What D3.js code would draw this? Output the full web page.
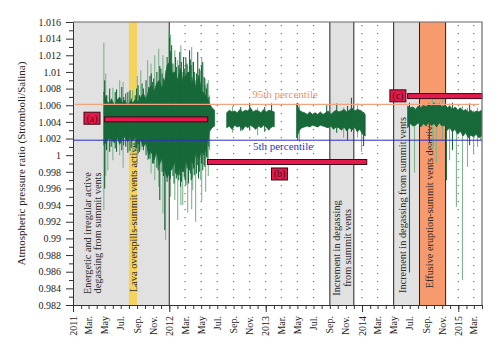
<!DOCTYPE html>
<html>
<head>
<meta charset="utf-8">
<script src="https://cdn.jsdelivr.net/npm/d3@7"></script>
<style>
  body { margin: 0; background: #fff; }
  svg { font-family: "Liberation Serif", "DejaVu Serif", serif; }
</style>
</head>
<body>
<div id="vis"></div>
<script>
// frame constants
const FRAME_WIDTH = 500;
const FRAME_HEIGHT = 354;
const MARGINS = {left: 73, right: 18, top: 22, bottom: 49};

// ---- data ----
// dense core of the record, one value every 10 days from each segment start
const STEP_DAYS = 10;
const segStarts = ["2011-04-28", "2012-08-06", "2013-04-28", "2014-06-23"];

const seg1Hi = [1.0076,1.0065,1.0062,1.0067,1.0060,1.0066,1.0070,1.0063,1.0066,1.0059,1.0065,1.0063,1.0067,1.0064,1.0070,1.0074,1.0067,
                1.0078,1.0084,1.0076,1.0086,1.0090,1.0080,1.0088,1.0108,1.0112,1.0098,1.0100,1.0090,1.0104,1.0088,1.0095,1.0100,1.0084,1.0092,1.0080,1.0096,1.0078,1.0074,1.0070,1.0062,1.0057,1.0054];
const seg1Lo = [1.0012,1.0016,1.0021,1.0018,1.0015,1.0022,1.0013,1.0019,1.0022,1.0016,1.0021,1.0017,1.0022,1.0013,1.0018,1.0010,1.0015,
                1.0000,1.0006,0.9994,1.0004,0.9988,0.9997,0.9982,0.9973,0.9980,0.9985,0.9992,0.9976,0.9987,0.9980,0.9994,0.9985,0.9997,0.9988,1.0004,0.9994,1.0006,1.0000,1.0012,1.0028,1.0033,1.0035];
const seg2Hi = [1.0051,1.0054,1.0052,1.0053,1.0051,1.0055,1.0052,1.0054,1.0053,1.0057,1.0052,1.0054,1.0053,1.0051,1.0055,1.0052,1.0054,1.0053,1.0052];
const seg2Lo = [1.0033,1.0035,1.0031,1.0036,1.0034,1.0035,1.0030,1.0035,1.0033,1.0036,1.0034,1.0031,1.0035,1.0033,1.0036,1.0034,1.0030,1.0035,1.0034];
const seg3Hi = [1.0062,1.0054,1.0052,1.0051,1.0049,1.0052,1.0049,1.0051,1.0049,1.0052,1.0049,1.0051,1.0053,1.0049,1.0052,1.0054,1.0052,1.0053,1.0055,1.0052,1.0054,1.0057,1.0053,1.0055,1.0054,1.0052,1.0049];
const seg3Lo = [1.0021,1.0030,1.0033,1.0034,1.0035,1.0034,1.0036,1.0035,1.0034,1.0036,1.0035,1.0034,1.0033,1.0035,1.0031,1.0034,1.0033,1.0030,1.0034,1.0029,1.0033,1.0030,1.0034,1.0028,1.0031,1.0025,1.0023];
const seg4Hi = [1.0059,1.0057,1.0058,1.0055,1.0059,1.0057,1.0060,1.0058,1.0062,1.0059,1.0063,1.0059,1.0062,1.0058,1.0060,1.0057,1.0059,1.0055,1.0058,1.0054,1.0057,1.0053,1.0055,1.0052,1.0054,1.0051,1.0053,1.0052,1.0054];
const seg4Lo = [1.0033,1.0038,1.0035,1.0036,1.0039,1.0034,1.0038,1.0035,1.0040,1.0036,1.0038,1.0034,1.0039,1.0035,1.0036,1.0030,1.0033,1.0028,1.0031,1.0025,1.0029,1.0023,1.0027,1.0021,1.0024,1.0022,1.0025,1.0021,1.0023];

// single spikes (top, bottom); dark = inside the dense trace, pale = outliers
const spikeDates = [
  "2011-04-28","2011-05-01","2011-05-13","2011-06-01","2011-06-27","2011-08-15","2011-09-15","2011-10-11","2011-11-07","2011-11-26",
  "2011-12-15","2011-12-18","2011-12-30","2012-01-02","2012-01-10","2012-01-22","2012-02-02","2012-02-10","2012-02-21","2012-03-04",
  "2012-03-11","2012-03-18","2012-03-30","2012-04-10","2012-04-18","2012-04-29","2012-05-07","2012-05-18","2012-06-02",
  "2011-05-20","2011-06-10","2011-07-05","2011-07-20","2011-08-05","2011-08-25","2011-09-05","2011-09-25","2011-10-05","2011-10-20",
  "2011-10-30","2011-11-15","2011-12-05","2012-01-15","2012-01-28","2012-02-16","2012-02-27","2012-03-24","2012-04-05","2012-04-24",
  "2012-05-12","2012-05-24",
  "2011-05-08","2011-05-26","2011-06-15","2011-07-12","2011-07-28","2011-08-10","2011-08-30","2011-09-10","2011-09-20","2011-10-15",
  "2011-10-25","2011-11-03","2011-11-20","2011-11-30","2011-12-10","2011-12-24","2012-01-05","2012-01-19","2012-01-25","2012-02-06",
  "2012-02-13","2012-02-24","2012-03-01","2012-03-08","2012-03-14","2012-03-21","2012-03-27","2012-04-02","2012-04-13","2012-04-21",
  "2012-05-02","2012-05-15","2012-05-21","2012-05-30",
  "2011-05-05","2011-07-10","2011-09-02","2011-10-24","2011-11-22","2011-12-08","2012-01-06","2012-02-14","2012-03-26","2012-05-03",
  "2012-05-28",
  "2012-08-28","2012-09-28","2012-11-01","2012-12-01","2012-12-28","2013-01-23",
  "2013-05-02","2013-05-09","2013-08-20","2013-09-27","2013-10-23","2013-11-07","2013-11-22","2013-12-15","2013-12-30","2014-01-07",
  "2014-06-30","2014-07-19","2014-09-14","2014-09-25","2014-10-10","2014-11-02","2014-11-17","2014-11-29","2014-12-10","2014-12-25",
  "2015-01-17","2015-02-05","2015-02-13","2015-02-28","2015-03-15","2015-03-26"];
const spikeTop = [
  1.0135,1.0090,1.0072,1.0081,1.0090,1.0078,1.0102,1.0114,1.0120,1.0107,
  1.0090,1.0102,1.0150,1.0141,1.0132,1.0126,1.0114,1.0124,1.0100,1.0117,
  1.0108,1.0126,1.0112,1.0090,1.0124,1.0102,1.0112,1.0084,1.0072,
  1.0080,1.0076,1.0082,1.0074,1.0078,1.0072,1.0084,1.0080,1.0090,1.0095,
  1.0088,1.0100,1.0098,1.0110,1.0106,1.0112,1.0104,1.0108,1.0100,1.0104,
  1.0094,1.0086,
  1.0072,1.0068,1.0079,1.0070,1.0076,1.0068,1.0080,1.0072,1.0086,1.0082,
  1.0098,1.0092,1.0088,1.0104,1.0092,1.0118,1.0125,1.0100,1.0118,1.0108,
  1.0098,1.0118,1.0096,1.0110,1.0100,1.0115,1.0094,1.0112,1.0098,1.0090,
  1.0108,1.0092,1.0080,1.0070,
  1.0098,1.0088,1.0095,1.0110,1.0128,1.0120,1.0145,1.0132,1.0130,1.0118,
  1.0090,
  1.0059,1.0058,1.0063,1.0057,1.0058,1.0062,
  1.0063,1.0060,1.0060,1.0062,1.0057,1.0059,1.0069,1.0062,1.0054,1.0052,
  1.0063,1.0057,1.0059,1.0069,1.0064,1.0069,1.0059,1.0062,1.0063,1.0057,
  1.0059,1.0057,1.0062,1.0054,1.0057,1.0052];
const spikeBottom = [
  0.9934,0.9960,0.9982,0.9994,1.0000,1.0004,1.0006,0.9994,0.9970,0.9946,
  0.9910,0.9898,0.9976,0.9970,0.9982,0.9946,0.9922,0.9976,0.9940,0.9964,
  0.9931,0.9982,0.9958,0.9920,0.9988,0.9970,0.9982,0.9956,1.0006,
  1.0004,1.0008,1.0006,1.0010,1.0005,1.0008,1.0002,1.0006,1.0000,0.9996,
  0.9990,0.9985,0.9980,0.9975,0.9972,0.9968,0.9974,0.9970,0.9976,0.9980,
  0.9988,0.9996,
  1.0006,1.0010,1.0004,1.0012,1.0003,1.0009,1.0008,1.0004,1.0010,0.9995,
  1.0002,0.9990,0.9982,0.9992,0.9975,0.9968,0.9972,0.9966,0.9978,0.9970,
  0.9962,0.9980,0.9970,0.9984,0.9966,0.9978,0.9972,0.9984,0.9978,0.9972,
  0.9990,0.9986,0.9998,1.0010,
  0.9975,0.9985,0.9990,0.9978,0.9962,0.9930,0.9950,0.9940,0.9935,0.9945,
  0.9975,
  1.0027,1.0029,1.0030,1.0024,1.0028,1.0033,
  1.0018,1.0016,1.0033,1.0027,1.0021,1.0018,1.0028,1.0021,1.0004,1.0011,
  0.9859,0.9979,1.0015,1.0006,0.9990,1.0018,0.9970,0.9994,1.0006,0.9938,
  0.9850,0.9986,1.0012,1.0003,1.0010,1.0018];
const spikeDark = [
  0,1,0,0,0,0,0,0,0,1,
  1,0,0,1,1,0,0,1,0,1,
  0,1,0,0,1,0,1,0,0,
  1,1,1,1,1,1,1,1,1,1,
  1,1,1,1,1,1,1,1,1,1,
  1,1,
  1,1,1,1,1,1,1,1,1,1,
  1,1,1,1,1,1,1,1,1,1,
  1,1,1,1,1,1,1,1,1,1,
  1,1,1,1,
  0,0,0,0,0,0,0,0,0,0,
  0,
  0,1,1,0,1,1,
  1,0,1,1,0,1,1,0,0,1,
  1,0,1,0,0,0,1,0,1,0,
  0,0,1,0,0,0];

// periods
const grayStarts = ["2011-01-01", "2013-09-01", "2014-05-01"];
const grayEnds   = ["2012-01-01", "2013-12-01", "2014-08-07"];
const yellowPeriod = ["2011-08-01", "2011-09-01"];
const orangePeriod = ["2014-08-07", "2014-11-14"];
const solidLines = ["2012-01-01", "2013-09-01", "2013-12-01", "2014-05-01", "2014-08-07", "2014-11-14"];
const dottedLines = ["2012-03-01","2012-05-01","2012-07-01","2012-09-01","2012-11-01","2013-01-01","2013-03-01",
                     "2013-05-01","2013-07-01","2014-01-01","2014-03-01","2015-01-01","2015-03-01"];

// percentiles
const P95 = 1.0061;
const P5 = 1.0018;

// red bars (a) (b) (c)
const barLabels = ["(a)", "(b)", "(c)"];
const barStarts = ["2011-05-01", "2012-05-25", "2014-06-23"];
const barEnds   = ["2012-05-26", "2014-01-19", "2015-04-01"];
const barValues = [1.0043, 0.99918, 1.0071];
const boxDates  = ["2011-03-14", "2013-02-22", "2014-05-17"];
const boxValues = [1.00444, 0.99774, 1.00713];

// rotated phase notes
const noteLines = [
  ["Energetic and irregular active", "degassing from summit vents"],
  ["Lava overspills-summit vents active"],
  ["Increment in degassing", "from summit vents"],
  ["Increment in degassing from summit vents"],
  ["Effusive eruption-summit vents deactivated"]];
const noteDates  = ["2011-03-16", "2011-08-18", "2013-10-17", "2014-06-04", "2014-09-14"];
const noteValues = [0.99065, 0.99251, 0.98885, 0.99401, 0.99480];

// axis ticks
const yTicks = [0.982,0.984,0.986,0.988,0.99,0.992,0.994,0.996,0.998,1,1.002,1.004,1.006,1.008,1.01,1.012,1.014,1.016];
const yMinorTicks = [0.983,0.985,0.987,0.989,0.991,0.993,0.995,0.997,0.999,1.001,1.003,1.005,1.007,1.009,1.011,1.013,1.015];
const xTickLabels = ["2011","Mar.","May","Jul.","Sep.","Nov.",
                     "2012","Mar.","May","Jul.","Sep.","Nov.",
                     "2013","Mar.","May","Jul.","Sep.","Nov.",
                     "2014","Mar.","May","Jul.","Sep.","Nov.",
                     "2015","Mar."];

// ---- drawing ----
const parse = d3.timeParse("%Y-%m-%d");

const FRAME = d3.select("#vis")
  .append("svg")
    .attr("width", FRAME_WIDTH)
    .attr("height", FRAME_HEIGHT);

const X_SCALE = d3.scaleTime()
  .domain([parse("2011-01-01"), parse("2015-04-01")])
  .range([MARGINS.left, FRAME_WIDTH - MARGINS.right]);
const Y_SCALE = d3.scaleLinear()
  .domain([0.982, 1.016])
  .range([FRAME_HEIGHT - MARGINS.bottom, MARGINS.top]);

const TOP = MARGINS.top, BOTTOM = FRAME_HEIGHT - MARGINS.bottom;

// shaded periods
FRAME.append("g").selectAll("rect")
  .data(grayStarts.map((s, i) => [s, grayEnds[i]]))
  .enter().append("rect")
    .attr("x", d => X_SCALE(parse(d[0])))
    .attr("width", d => X_SCALE(parse(d[1])) - X_SCALE(parse(d[0])))
    .attr("y", TOP).attr("height", BOTTOM - TOP)
    .style("fill", "#e1e1e1");

FRAME.append("rect")
  .attr("x", X_SCALE(parse(yellowPeriod[0])))
  .attr("width", X_SCALE(parse(yellowPeriod[1])) - X_SCALE(parse(yellowPeriod[0])))
  .attr("y", TOP).attr("height", BOTTOM - TOP)
  .style("fill", "#f5d45e");

FRAME.append("rect")
  .attr("x", X_SCALE(parse(orangePeriod[0])))
  .attr("width", X_SCALE(parse(orangePeriod[1])) - X_SCALE(parse(orangePeriod[0])))
  .attr("y", TOP).attr("height", BOTTOM - TOP)
  .style("fill", "#f79a6e");

// dotted month lines
FRAME.append("g").selectAll("line")
  .data(dottedLines)
  .enter().append("line")
    .attr("x1", d => X_SCALE(parse(d))).attr("x2", d => X_SCALE(parse(d)))
    .attr("y1", TOP + 3).attr("y2", BOTTOM)
    .style("stroke", "#777")
    .style("stroke-width", 1.2)
    .style("stroke-dasharray", "1.2,6.8");

// solid period borders
FRAME.append("g").selectAll("line")
  .data(solidLines)
  .enter().append("line")
    .attr("x1", d => X_SCALE(parse(d))).attr("x2", d => X_SCALE(parse(d)))
    .attr("y1", TOP).attr("y2", BOTTOM)
    .style("stroke", "#222")
    .style("stroke-width", 1);

// phase notes (under the data)
noteLines.forEach((lines, i) => {
  const g = FRAME.append("g")
    .attr("transform", "translate(" + X_SCALE(parse(noteDates[i])) + "," + Y_SCALE(noteValues[i]) + ") rotate(-90)");
  lines.forEach((t, j) => {
    g.append("text")
      .attr("x", 0)
      .attr("y", (j - (lines.length - 1) / 2) * 10.5)
      .attr("dy", "0.35em")
      .attr("text-anchor", "middle")
      .attr("font-size", "10.3px")
      .style("fill", "#2b2b2b")
      .text(t);
  });
});

// spikes: pale first, dark after core
const spikes = spikeDates.map((d, i) => ({date: parse(d), top: spikeTop[i], bottom: spikeBottom[i], dark: spikeDark[i] === 1}));

FRAME.append("g").selectAll("line")
  .data(spikes.filter(d => !d.dark))
  .enter().append("line")
    .attr("x1", d => X_SCALE(d.date)).attr("x2", d => X_SCALE(d.date))
    .attr("y1", d => Y_SCALE(d.top)).attr("y2", d => Y_SCALE(d.bottom))
    .style("stroke", "#7fb48c")
    .style("stroke-width", 1.1);

// dense core as areas
const segments = [[seg1Hi, seg1Lo], [seg2Hi, seg2Lo], [seg3Hi, seg3Lo], [seg4Hi, seg4Lo]];
const AREA = d3.area()
  .x(d => X_SCALE(d.date))
  .y0(d => Y_SCALE(d.lo))
  .y1(d => Y_SCALE(d.hi));

segments.forEach((s, k) => {
  const start = parse(segStarts[k]);
  const pts = s[0].map((hi, i) => ({date: d3.timeDay.offset(start, i * STEP_DAYS), hi: hi, lo: s[1][i]}));
  FRAME.append("path")
    .datum(pts)
    .attr("d", AREA)
    .style("fill", "#17693a")
    .style("stroke", "#17693a")
    .style("stroke-width", 0.8);
});

FRAME.append("g").selectAll("line")
  .data(spikes.filter(d => d.dark))
  .enter().append("line")
    .attr("x1", d => X_SCALE(d.date)).attr("x2", d => X_SCALE(d.date))
    .attr("y1", d => Y_SCALE(d.top)).attr("y2", d => Y_SCALE(d.bottom))
    .style("stroke", "#17693a")
    .style("stroke-width", 1.1);

// percentile lines
FRAME.append("line")
  .attr("x1", MARGINS.left + 2).attr("x2", FRAME_WIDTH - MARGINS.right - 3)
  .attr("y1", Y_SCALE(P95)).attr("y2", Y_SCALE(P95))
  .style("stroke", "#f2a27e").style("stroke-width", 1.2);
FRAME.append("line")
  .attr("x1", MARGINS.left).attr("x2", FRAME_WIDTH - MARGINS.right)
  .attr("y1", Y_SCALE(P5)).attr("y2", Y_SCALE(P5))
  .style("stroke", "#2b2bc4").style("stroke-width", 1);

FRAME.append("text")
  .attr("x", 285).attr("y", Y_SCALE(P95) - 6)
  .attr("text-anchor", "middle").attr("font-size", "11px")
  .style("fill", "#e8946c")
  .text("95th percentile");
FRAME.append("text")
  .attr("x", 283).attr("y", Y_SCALE(P5) + 10)
  .attr("text-anchor", "middle").attr("font-size", "11px")
  .style("fill", "#3434c8")
  .text("5th percentile");

// red bars and their boxes
barLabels.forEach((lab, i) => {
  const x0 = X_SCALE(parse(barStarts[i])), x1 = X_SCALE(parse(barEnds[i]));
  FRAME.append("rect")
    .attr("x", x0).attr("width", x1 - x0)
    .attr("y", Y_SCALE(barValues[i]) - 2.5).attr("height", 5)
    .style("fill", "#e5194b").style("stroke", "#3a0a14").style("stroke-width", 1);
  const bx = X_SCALE(parse(boxDates[i])), by = Y_SCALE(boxValues[i]);
  FRAME.append("rect")
    .attr("x", bx - 8).attr("y", by - 6).attr("width", 16).attr("height", 12)
    .style("fill", "#e5194b").style("stroke", "#3a0a14").style("stroke-width", 1);
  FRAME.append("text")
    .attr("x", bx).attr("y", by).attr("dy", "0.35em")
    .attr("text-anchor", "middle").attr("font-size", "10px")
    .style("fill", "#4a0812")
    .text(lab);
});

// frame border (top and right)
FRAME.append("path")
  .attr("d", "M" + MARGINS.left + "," + TOP + "H" + (FRAME_WIDTH - MARGINS.right) + "V" + BOTTOM)
  .style("fill", "none").style("stroke", "#6a6a6a").style("stroke-width", 1.2);

// y axis
const fmt = d => String(+d.toFixed(3));
const yAxis = FRAME.append("g")
  .attr("transform", "translate(" + MARGINS.left + ",0)")
  .call(d3.axisLeft(Y_SCALE).tickValues(yTicks).tickSize(7).tickSizeOuter(0).tickPadding(5).tickFormat(fmt));
FRAME.append("g")
  .attr("transform", "translate(" + MARGINS.left + ",0)")
  .call(d3.axisLeft(Y_SCALE).tickValues(yMinorTicks).tickSize(4).tickSizeOuter(0).tickFormat(""))
  .select(".domain").remove();
yAxis.selectAll("text")
  .attr("font-size", "10px")
  .attr("font-family", "Liberation Serif, serif")
  .style("fill", "#222");

// x axis
const months = d3.timeMonth.range(parse("2011-01-01"), parse("2015-04-02"));
const years = d3.timeYear.range(parse("2011-01-01"), parse("2015-01-02"));
const labelDates = d3.timeMonth.every(2).range(parse("2011-01-01"), parse("2015-03-02"));

FRAME.append("g")
  .attr("transform", "translate(0," + BOTTOM + ")")
  .call(d3.axisBottom(X_SCALE).tickValues(months).tickSize(4).tickSizeOuter(0).tickFormat(""));
FRAME.append("g")
  .attr("transform", "translate(0," + BOTTOM + ")")
  .call(d3.axisBottom(X_SCALE).tickValues(years).tickSize(7).tickSizeOuter(0).tickFormat(""))
  .select(".domain").remove();

FRAME.selectAll(".tick line").style("stroke", "#333");
FRAME.selectAll(".domain").style("stroke", "#333");

FRAME.append("g").selectAll("text")
  .data(labelDates)
  .enter().append("text")
    .attr("transform", d => "translate(" + X_SCALE(d) + "," + (BOTTOM + 11) + ") rotate(-90)")
    .attr("dy", "0.35em")
    .attr("text-anchor", "end")
    .attr("font-size", "10px")
    .style("fill", "#222")
    .text((d, i) => xTickLabels[i]);

// y title
FRAME.append("text")
  .attr("transform", "translate(21," + ((TOP + BOTTOM) / 2) + ") rotate(-90)")
  .attr("dy", "0.35em")
  .attr("text-anchor", "middle")
  .attr("font-size", "11px")
  .style("fill", "#222")
  .text("Atmospheric pressure ratio (Stromboli/Salina)");
</script>
</body>
</html>
